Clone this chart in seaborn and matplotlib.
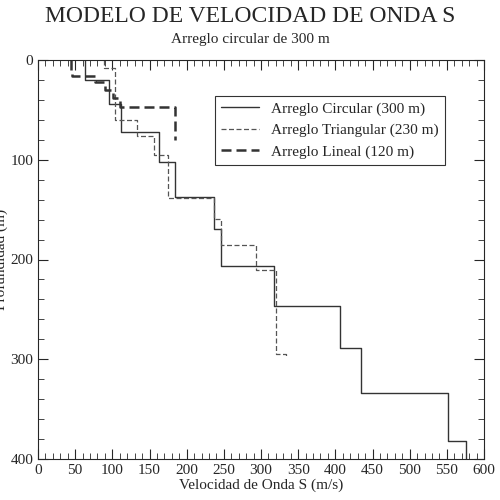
import numpy as np
import pandas as pd
import matplotlib
matplotlib.use("Agg")
import matplotlib.pyplot as plt
import seaborn as sns
from matplotlib.ticker import MultipleLocator

# Velocidad de cada capa (m/s) y profundidad de la base de cada capa (m)
circ_vel = [63, 96, 112, 163, 184, 237, 246, 317, 406, 434, 552, 576]
circ_base = [20, 44, 72, 102, 137, 169, 207, 247, 289, 334, 382, 400]

tri_vel = [89, 104, 133, 156, 175, 237, 246, 293, 320, 334]
tri_base = [8, 60, 76, 95, 138, 159, 185, 211, 295, 299]

lin_vel = [44, 46, 77, 90, 101, 110, 184]
lin_base = [10, 16, 22, 30, 38, 47, 80]


def escalones(vel, base):
    # convierte capas en un perfil escalonado
    xs, ys = [], []
    top = 0
    for v, b in zip(vel, base):
        xs += [v, v]
        ys += [top, b]
        top = b
    return pd.DataFrame({"v": xs, "z": ys})


sns.set_style("ticks")
plt.rcParams["font.family"] = ["Liberation Serif", "DejaVu Serif"]

fig, ax = plt.subplots(figsize=(5, 5), dpi=100)
fig.subplots_adjust(left=0.076, right=0.968, top=0.88, bottom=0.082)

sns.lineplot(data=escalones(circ_vel, circ_base), x="v", y="z", sort=False, ax=ax,
             estimator=None, color="#333333", lw=1.0, label="Arreglo Circular (300 m)")
sns.lineplot(data=escalones(tri_vel, tri_base), x="v", y="z", sort=False, ax=ax,
             estimator=None, color="#555555", lw=0.9, label="Arreglo Triangular (230 m)")
ax.lines[-1].set_dashes([4, 2])
sns.lineplot(data=escalones(lin_vel, lin_base), x="v", y="z", sort=False, ax=ax,
             estimator=None, color="#333333", lw=1.8, label="Arreglo Lineal (120 m)")
ax.lines[-1].set_dashes([4, 2])

ax.set_xlim(0, 600)
ax.set_ylim(400, 0)
ax.xaxis.set_major_locator(MultipleLocator(50))
ax.xaxis.set_minor_locator(MultipleLocator(10))
ax.yaxis.set_major_locator(MultipleLocator(100))
ax.yaxis.set_minor_locator(MultipleLocator(20))
ax.tick_params(which="both", direction="in", top=True, right=True, labelsize=11)
ax.tick_params(which="major", length=7)
ax.tick_params(which="minor", length=4)
ax.set_xlabel("Velocidad de Onda S (m/s)", fontsize=11, labelpad=1)
ax.set_ylabel("Profundidad (m)", fontsize=11, labelpad=-2)
ax.yaxis.set_label_coords(-0.068, 0.5)

leg = ax.legend(loc="upper right", bbox_to_anchor=(0.93, 0.93), fontsize=11,
                frameon=True, fancybox=False, edgecolor="black", handlelength=2.5)
leg.get_frame().set_linewidth(0.8)
for h in leg.get_lines()[1:]:
    h.set_dashes([4, 2])

fig.text(0.5, 0.955, "MODELO DE VELOCIDAD DE ONDA S", ha="center", fontsize=17)
fig.text(0.5, 0.915, "Arreglo circular de 300 m", ha="center", fontsize=11)

fig.savefig("out.png", dpi=100)
